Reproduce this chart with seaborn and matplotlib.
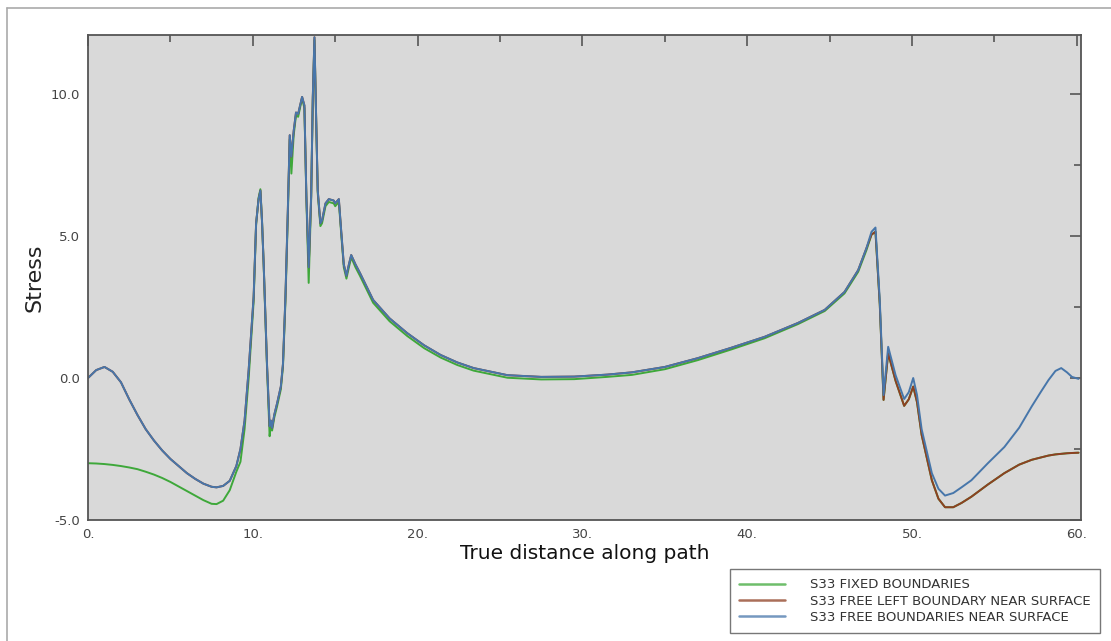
import numpy as np
import pandas as pd
import matplotlib
matplotlib.use("Agg")
import matplotlib.pyplot as plt
import seaborn as sns

# ---------------- data ----------------
distance = [0.0, 0.5, 1.0, 1.5, 2.0, 2.5, 3.0, 3.5, 4.0, 4.5, 5.0, 5.5, 6.0, 6.5, 7.0, 7.5, 7.8,
            8.2, 8.6, 9.0, 9.25, 9.5, 9.75, 10.05, 10.2, 10.35, 10.46, 10.56, 10.66, 10.86, 11.02,
            11.1, 11.17, 11.3, 11.47, 11.7, 11.83, 11.98, 12.12, 12.24, 12.34, 12.48, 12.62, 12.75,
            12.99, 13.13, 13.25, 13.39, 13.54, 13.64, 13.74, 13.86, 13.94, 14.1, 14.2, 14.41, 14.61,
            14.91, 15.0, 15.22, 15.36, 15.52, 15.68, 15.83, 15.97, 16.23, 16.5, 17.3, 18.3, 19.37,
            20.4, 21.4, 22.4, 23.4, 25.45, 27.5, 29.5, 31.5, 33.0, 35.0, 37.0, 39.0, 41.05, 43.08,
            44.7, 45.9, 46.73, 47.23, 47.54, 47.78, 48.04, 48.27, 48.55, 49.0, 49.52, 49.8, 50.07,
            50.3, 50.58, 51.2, 51.6, 52.0, 52.5, 53.0, 53.6, 54.6, 55.6, 56.5, 57.26, 57.8, 58.28,
            58.7, 59.05, 59.4, 59.7, 60.1]

s33_fixed = [-3.0, -3.01, -3.03, -3.06, -3.1, -3.15, -3.21, -3.3, -3.4, -3.52, -3.66, -3.82, -3.98,
             -4.14, -4.3, -4.43, -4.44, -4.32, -3.95, -3.3, -2.95, -1.8, 0.0, 2.7, 5.4, 6.35, 6.65,
             5.5, 3.95, 0.4, -2.05, -1.6, -1.85, -1.4, -1.0, -0.4, 0.4, 2.7, 5.6, 8.4, 7.2, 8.55,
             9.25, 9.2, 9.85, 9.5, 6.3, 3.35, 6.3, 9.8, 11.9, 8.6, 6.5, 5.35, 5.45, 6.05, 6.2, 6.15,
             6.05, 6.2, 5.1, 3.9, 3.5, 3.9, 4.25, 3.9, 3.6, 2.65, 2.0, 1.48, 1.05, 0.72, 0.46, 0.26,
             0.01, -0.05, -0.04, 0.04, 0.11, 0.31, 0.63, 1.0, 1.4, 1.9, 2.36, 2.98, 3.74, 4.5, 5.05,
             5.15, 2.6, -0.77, 0.87, -0.1, -0.98, -0.75, -0.3, -0.85, -2.0, -3.6, -4.25, -4.55,
             -4.55, -4.4, -4.18, -3.75, -3.35, -3.05, -2.88, -2.8, -2.73, -2.69, -2.67, -2.65,
             -2.64, -2.63]

s33_free_left = [0.0, 0.28, 0.39, 0.22, -0.15, -0.75, -1.3, -1.8, -2.2, -2.55, -2.85, -3.1, -3.35,
                 -3.55, -3.72, -3.83, -3.85, -3.8, -3.62, -3.1, -2.5, -1.5, 0.3, 2.86, 5.45, 6.3,
                 6.6, 5.5, 4.0, 0.5, -1.7, -1.5, -1.76, -1.3, -0.9, -0.3, 0.5, 2.86, 5.8, 8.55,
                 7.8, 8.7, 9.35, 9.3, 9.9, 9.6, 6.4, 3.9, 6.4, 9.9, 12.0, 8.7, 6.6, 5.45, 5.55,
                 6.15, 6.3, 6.25, 6.15, 6.3, 5.2, 4.0, 3.6, 4.0, 4.33, 4.0, 3.7, 2.75, 2.1, 1.58,
                 1.15, 0.81, 0.55, 0.35, 0.1, 0.04, 0.05, 0.12, 0.2, 0.39, 0.7, 1.06, 1.45, 1.94,
                 2.4, 3.03, 3.8, 4.57, 5.05, 5.15, 2.6, -0.77, 0.87, -0.1, -0.98, -0.75, -0.3,
                 -0.85, -2.0, -3.6, -4.25, -4.55, -4.55, -4.4, -4.18, -3.75, -3.35, -3.05, -2.88,
                 -2.8, -2.73, -2.69, -2.67, -2.65, -2.64, -2.63]

s33_free_both = [0.0, 0.28, 0.39, 0.22, -0.15, -0.75, -1.3, -1.8, -2.2, -2.55, -2.85, -3.1, -3.35,
                 -3.55, -3.72, -3.83, -3.85, -3.8, -3.62, -3.1, -2.5, -1.5, 0.3, 2.86, 5.45, 6.3,
                 6.6, 5.5, 4.0, 0.5, -1.7, -1.5, -1.76, -1.3, -0.9, -0.3, 0.5, 2.86, 5.8, 8.55,
                 7.8, 8.7, 9.35, 9.3, 9.9, 9.6, 6.4, 3.9, 6.4, 9.9, 12.0, 8.7, 6.6, 5.45, 5.55,
                 6.15, 6.3, 6.25, 6.15, 6.3, 5.2, 4.0, 3.6, 4.0, 4.33, 4.0, 3.7, 2.75, 2.1, 1.58,
                 1.15, 0.81, 0.55, 0.35, 0.1, 0.04, 0.05, 0.12, 0.2, 0.39, 0.7, 1.06, 1.45, 1.94,
                 2.4, 3.03, 3.8, 4.57, 5.15, 5.3, 2.75, -0.6, 1.1, 0.1, -0.74, -0.5, 0.0, -0.6,
                 -1.8, -3.35, -3.9, -4.14, -4.05, -3.85, -3.6, -3.0, -2.43, -1.75, -1.0, -0.5,
                 -0.07, 0.25, 0.35, 0.2, 0.04, -0.03]

series_names = ["S33 FIXED BOUNDARIES",
                "S33 FREE LEFT BOUNDARY NEAR SURFACE",
                "S33 FREE BOUNDARIES NEAR SURFACE"]
series_values = [s33_fixed, s33_free_left, s33_free_both]

x_ticks = [0, 10, 20, 30, 40, 50, 60]
x_tick_labels = ["0.", "10.", "20.", "30.", "40.", "50.", "60."]
y_ticks = [-5, 0, 5, 10]
y_tick_labels = ["-5.0", "0.0", "5.0", "10.0"]

# ---------------- build table ----------------
frames = []
for name, vals in zip(series_names, series_values):
    frames.append(pd.DataFrame({"distance": distance, "stress": vals, "series": name}))
df = pd.concat(frames, ignore_index=True)

palette = {series_names[0]: "#3ea83a",
           series_names[1]: "#8e3f22",
           series_names[2]: "#4776aa"}

sns.set_style("white")
plt.rcParams['font.family'] = ['DejaVu Sans']

fig = plt.figure(figsize=(11.11, 6.41), dpi=100)
ax = fig.add_axes([88 / 1111, 1 - 520 / 641, (1081 - 88) / 1111, (520 - 35) / 641])
ax.set_facecolor("#d9d9d9")

sns.lineplot(data=df, x="distance", y="stress", hue="series", hue_order=series_names,
             palette=palette, estimator=None, sort=False, linewidth=1.4, ax=ax, legend=True)

ax.set_xlim(0, 60.25)
ax.set_ylim(-5, 12.08)
ax.set_xticks(x_ticks)
ax.set_xticklabels(x_tick_labels)
ax.set_yticks(y_ticks)
ax.set_yticklabels(y_tick_labels)
ax.set_xticks([5, 15, 25, 35, 45, 55], minor=True)
ax.set_yticks([-2.5, 2.5, 7.5], minor=True)
ax.tick_params(which="both", direction="in", top=True, right=True, color="#555555",
               labelcolor="#444444", labelsize=9.5, width=1.2)
ax.tick_params(which="major", length=8, pad=6)
ax.tick_params(which="minor", length=5)
for sp in ax.spines.values():
    sp.set_color("#555555")
    sp.set_linewidth(1.3)

ax.set_xlabel("True distance along path", fontsize=14.5, color="#111111", labelpad=2)
ax.set_ylabel("Stress", fontsize=16, color="#222222", labelpad=4)

leg = ax.legend(loc="upper left", bbox_to_anchor=(730 / 1111, 1 - 569 / 641),
                bbox_transform=fig.transFigure, borderaxespad=0, fontsize=9.5,
                frameon=True, fancybox=False, handlelength=3.5, handletextpad=1.9,
                borderpad=0.7, labelspacing=0.25)
leg.get_frame().set_edgecolor("#555555")
leg.get_frame().set_linewidth(1.0)
for t in leg.get_texts():
    t.set_color("#333333")
for h in leg.get_lines():
    h.set_linewidth(1.8)
    h.set_alpha(0.75)
leg.set_title(None)

# figure frame lines
fig.add_artist(plt.Line2D([7 / 1111, 7 / 1111], [0, 1 - 8 / 641], transform=fig.transFigure,
                          color="#aaaaaa", linewidth=1.2))
fig.add_artist(plt.Line2D([7 / 1111, 1], [1 - 8 / 641, 1 - 8 / 641], transform=fig.transFigure,
                          color="#aaaaaa", linewidth=1.2))

fig.savefig("out.png", dpi=100)
